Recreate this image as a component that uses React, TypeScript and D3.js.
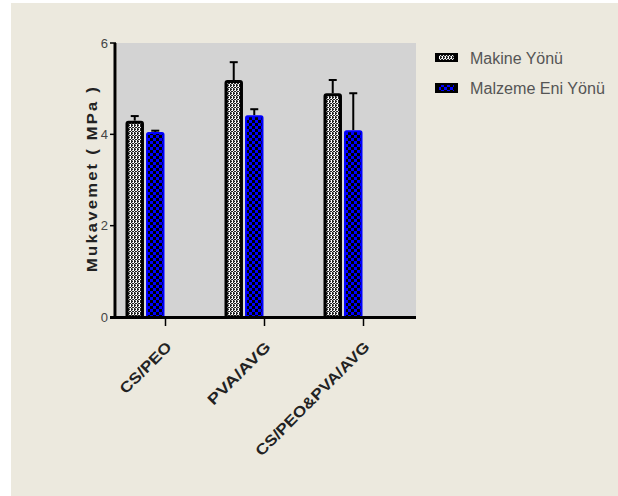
import React from "react";
import * as d3 from "d3";

const categories = ["CS/PEO", "PVA/AVG", "CS/PEO&PVA/AVG"];
const seriesNames = ["Makine Yönü", "Malzeme Eni Yönü"];
const makineValues = [4.3, 5.19, 4.9];
const makineErrors = [0.1, 0.39, 0.29];
const malzemeValues = [4.05, 4.42, 4.09];
const malzemeErrors = [0.03, 0.13, 0.81];
const yTicks = [0, 2, 4, 6];
const yLabel = "Mukavemet ( MPa )";

const W = 618;
const H = 496;
const plot = { left: 116, right: 413, top: 43, bottom: 317 };
const labelLengths = [66, 82, 154];

export default function App() {
  const x0 = d3.scaleBand<string>().domain(categories).range([plot.left, plot.right]).padding(0);
  const x1 = d3.scaleBand<string>().domain(seriesNames).range([-40, -1]).paddingInner(0.1);
  const y = d3.scaleLinear().domain([0, 6]).range([plot.bottom, plot.top]);
  const center = (c: string) => (x0(c) as number) + x0.bandwidth() / 2;

  const series = [
    { name: seriesNames[0], values: makineValues, errors: makineErrors, fill: "url(#patMakine)", stroke: "#000", sw: 3 },
    { name: seriesNames[1], values: malzemeValues, errors: malzemeErrors, fill: "url(#patMalzeme)", stroke: "#0000ff", sw: 2 },
  ];

  return (
    <svg width={W} height={H} style={{ position: "absolute", left: 0, top: 0 }}>
      <defs>
        <pattern id="patMakine" width="3" height="4" patternUnits="userSpaceOnUse">
          <rect width="3" height="4" fill="#222" />
          <rect x="1" y="0" width="1" height="3" fill="#fff" />
          <rect x="0" y="2" width="1" height="1" fill="#ddd" />
          <rect x="2" y="3" width="1" height="1" fill="#eee" />
          <rect x="0" y="0" width="1" height="1" fill="#999" />
        </pattern>
        <pattern id="patMalzeme" width="6" height="6" patternUnits="userSpaceOnUse">
          <rect width="6" height="6" fill="#0000ff" />
          <rect x="0" y="0" width="3" height="3" fill="#000" />
          <rect x="3" y="3" width="3" height="3" fill="#000" />
        </pattern>
      </defs>
      <rect x={11} y={3} width={W - 11} height={H - 3} fill="#ECE9DE" />
      <rect x={plot.left + 1} y={plot.top} width={plot.right + 3 - plot.left - 1} height={plot.bottom - plot.top} fill="#D3D3D3" />

      {/* bars */}
      {series.map((s) =>
        categories.map((c, i) => {
          const bx = center(c) + (x1(s.name) as number);
          const bw = x1.bandwidth();
          const top = y(s.values[i]);
          const errTop = y(s.values[i] + s.errors[i]);
          const cx = bx + bw / 2;
          return (
            <g key={s.name + c}>
              <line x1={cx} x2={cx} y1={top} y2={errTop} stroke="#000" strokeWidth={2} />
              <line x1={cx - 4} x2={cx + 4} y1={errTop} y2={errTop} stroke="#000" strokeWidth={2} />
              <rect
                x={bx + s.sw / 2}
                y={top + s.sw / 2}
                width={bw - s.sw}
                height={plot.bottom - top - s.sw / 2}
                fill={s.fill}
                stroke={s.stroke}
                strokeWidth={s.sw}
                rx={1.5}
              />
            </g>
          );
        })
      )}

      {/* y axis */}
      <line x1={115} x2={115} y1={plot.top} y2={plot.bottom + 1} stroke="#000" strokeWidth={3} />
      {yTicks.map((t) => (
        <g key={t}>
          <line x1={110} x2={116} y1={y(t)} y2={y(t)} stroke="#000" strokeWidth={1.5} />
          <text x={108} y={y(t)} dy="0.35em" textAnchor="end" fontFamily="Liberation Sans, Arial, sans-serif" fontSize={13} fill="#444">
            {t}
          </text>
        </g>
      ))}
      {/* x axis */}
      <line x1={110} x2={plot.right + 3} y1={plot.bottom + 0.5} y2={plot.bottom + 0.5} stroke="#000" strokeWidth={3} />
      {categories.map((c, i) => (
        <g key={c}>
          <line x1={center(c)} x2={center(c)} y1={plot.bottom} y2={plot.bottom + 9} stroke="#000" strokeWidth={1.5} />
          <text
            transform={`translate(${center(c) + 7},${plot.bottom + 31}) rotate(-45)`}
            textAnchor="end"
            fontFamily="Liberation Sans, Arial, sans-serif"
            fontWeight="bold"
            fontSize={15}
            fill="#222"
            textLength={labelLengths[i]}
            lengthAdjust="spacingAndGlyphs"
          >
            {c}
          </text>
        </g>
      ))}

      {/* y label */}
      <text
        transform={`translate(97,${(85 + 272) / 2}) rotate(-90)`}
        textAnchor="middle"
        fontFamily="Liberation Sans, Arial, sans-serif"
        fontWeight="bold"
        fontSize={15}
        fill="#222"
        textLength={187}
        lengthAdjust="spacingAndGlyphs"
        letterSpacing={2}
      >
        {yLabel}
      </text>

      {/* legend */}
      {series.map((s, i) => {
        const ly = 53 + i * 30;
        return (
          <g key={s.name}>
            <rect x={435} y={ly} width={23} height={i === 0 ? 9 : 10} fill="#000" />
            <rect x={439} y={ly + 2} width={15} height={i === 0 ? 5 : 6} fill={s.fill} />
            <text
              x={470}
              y={ly + 11}
              fontFamily="Liberation Sans, Arial, sans-serif"
              fontSize={16}
              fill="#555"
              textLength={i === 0 ? 93 : 135}
              lengthAdjust="spacingAndGlyphs"
            >
              {s.name}
            </text>
          </g>
        );
      })}
    </svg>
  );
}
